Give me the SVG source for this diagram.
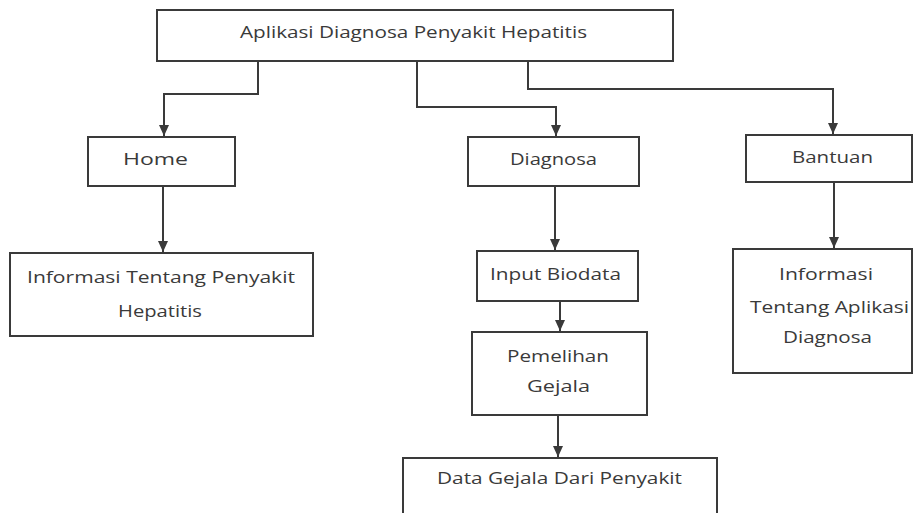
<svg xmlns="http://www.w3.org/2000/svg" width="914" height="513" viewBox="0 0 914 513">
<defs>
<style>
.box{fill:#fff;stroke:#3a3a3a;stroke-width:2}
.t{font-family:"Open Sans","Liberation Sans",sans-serif;font-size:16px;fill:#3a3a3a;text-anchor:start}
.c{fill:none;stroke:#3a3a3a;stroke-width:2}
</style>
<marker id="ah" markerWidth="11" markerHeight="10" refX="11" refY="5" orient="auto" markerUnits="userSpaceOnUse" viewBox="0 0 11 10">
<path d="M0,0 L11,5 L0,10 Z" fill="#3a3a3a"/>
</marker>
</defs>
<rect width="914" height="513" fill="#fff"/>
<g id="connectors">
<path class="c" d="M258,61 V94 H164 V136" marker-end="url(#ah)"/>
<path class="c" d="M417,61 V107 H556 V136" marker-end="url(#ah)"/>
<path class="c" d="M528,61 V89 H833 V134" marker-end="url(#ah)"/>
<path class="c" d="M163,186 V252" marker-end="url(#ah)"/>
<path class="c" d="M555,186 V250" marker-end="url(#ah)"/>
<path class="c" d="M834,182 V248" marker-end="url(#ah)"/>
<path class="c" d="M560,301 V331" marker-end="url(#ah)"/>
<path class="c" d="M558,415 V457" stroke="#777" marker-end="url(#ah)"/>
</g>
<g id="node-app">
<rect class="box" x="157" y="10" width="516" height="51"/>
<text class="t" x="240" y="38" textLength="347" lengthAdjust="spacingAndGlyphs">Aplikasi Diagnosa Penyakit Hepatitis</text>
</g>
<g id="node-home">
<rect class="box" x="88" y="137" width="147" height="49"/>
<text class="t" x="123" y="165" textLength="65" lengthAdjust="spacingAndGlyphs">Home</text>
</g>
<g id="node-info-hepatitis">
<rect class="box" x="10" y="253" width="303" height="83"/>
<text class="t" x="27" y="283" textLength="268" lengthAdjust="spacingAndGlyphs">Informasi Tentang Penyakit</text>
<text class="t" x="118" y="317" textLength="84" lengthAdjust="spacingAndGlyphs">Hepatitis</text>
</g>
<g id="node-diagnosa">
<rect class="box" x="468" y="137" width="171" height="49"/>
<text class="t" x="510" y="165" textLength="87" lengthAdjust="spacingAndGlyphs">Diagnosa</text>
</g>
<g id="node-input-biodata">
<rect class="box" x="477" y="251" width="161" height="50"/>
<text class="t" x="490" y="280" textLength="131" lengthAdjust="spacingAndGlyphs">Input Biodata</text>
</g>
<g id="node-pemelihan">
<rect class="box" x="472" y="332" width="175" height="83"/>
<text class="t" x="507" y="362" textLength="102" lengthAdjust="spacingAndGlyphs">Pemelihan</text>
<text class="t" x="527" y="392" textLength="63" lengthAdjust="spacingAndGlyphs">Gejala</text>
</g>
<g id="node-data-gejala">
<rect class="box" x="403" y="458" width="314" height="64"/>
<text class="t" x="437" y="484" textLength="245" lengthAdjust="spacingAndGlyphs">Data Gejala Dari Penyakit</text>
</g>
<g id="node-bantuan">
<rect class="box" x="746" y="135" width="166" height="47"/>
<text class="t" x="792" y="163" textLength="81" lengthAdjust="spacingAndGlyphs">Bantuan</text>
</g>
<g id="node-info-aplikasi">
<rect class="box" x="733" y="249" width="179" height="124"/>
<text class="t" x="779" y="280" textLength="94" lengthAdjust="spacingAndGlyphs">Informasi</text>
<text class="t" x="750" y="313" textLength="159" lengthAdjust="spacingAndGlyphs">Tentang Aplikasi</text>
<text class="t" x="783" y="343" textLength="89" lengthAdjust="spacingAndGlyphs">Diagnosa</text>
</g>
</svg>
